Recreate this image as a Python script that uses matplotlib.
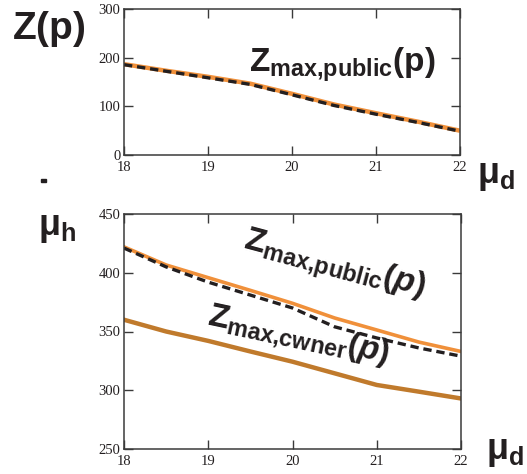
import matplotlib
matplotlib.use("Agg")
import matplotlib.pyplot as plt
from matplotlib.patches import Rectangle

# ---- data ----
mu_d = [18, 18.5, 19, 19.5, 20, 20.5, 21, 21.5, 22]
top_public = [187, 173.5, 161, 147, 126, 104, 86, 68.5, 50]
top_dashed = [186, 172.5, 159, 145.5, 124, 102, 84, 67, 49]
bot_public = [422, 406.6, 395.8, 385, 374, 361.5, 351.3, 341, 333]
bot_dashed = [421, 405, 392, 381, 370, 354, 344.5, 336, 329]
bot_owner = [360, 350, 342, 333, 324.3, 314.4, 304.5, 298.8, 293]
x_ticks = [18, 19, 20, 21, 22]
top_yticks = [0, 100, 200, 300]
bot_yticks = [250, 300, 350, 400, 450]

ORANGE = "#F0903A"
BROWN = "#C07A2C"
DARK = "#231F20"

plt.rcParams["mathtext.fontset"] = "custom"
plt.rcParams["mathtext.bf"] = "Liberation Sans:bold"
plt.rcParams["mathtext.rm"] = "Liberation Sans:bold"
plt.rcParams["mathtext.it"] = "Liberation Sans:italic:bold"
plt.rcParams["lines.scale_dashes"] = False

W, H = 527, 474
fig = plt.figure(figsize=(W / 100, H / 100), dpi=100)


def fx(px):
    return px / W


def fy(py):
    return 1 - py / H


def style_axes(ax, yticks):
    ax.set_xlim(18, 22)
    ax.set_xticks(x_ticks)
    ax.set_yticks(yticks)
    ax.set_ylim(yticks[0], yticks[-1])
    ax.tick_params(direction="in", length=6.5, width=1.0, color="#3a3a3a",
                   top=True, right=True, labelsize=10.5, labelcolor=DARK)
    ax.tick_params(axis="x", pad=4.5)
    ax.tick_params(axis="y", pad=2.5)
    for lab in ax.get_xticklabels() + ax.get_yticklabels():
        lab.set_family("Liberation Serif")
    for lab in ax.get_xticklabels():
        lab.set_x(lab.get_position()[0])
    for sp in ax.spines.values():
        sp.set_color("#3a3a3a")
        sp.set_linewidth(1.1)


# top axes
ax1 = fig.add_axes([fx(124), fy(155), fx(460) - fx(124), (155 - 9.3) / H])
ax1.plot(mu_d, top_public, color=ORANGE, lw=3.2, solid_capstyle="butt")
ax1.plot(mu_d, top_dashed, color=DARK, lw=2.4, dashes=(6, 3.5))
style_axes(ax1, top_yticks)

# bottom axes
ax2 = fig.add_axes([fx(124), fy(449), fx(461) - fx(124), (449 - 214) / H])
ax2.plot(mu_d, bot_owner, color=BROWN, lw=3.2)
ax2.plot(mu_d, bot_public, color=ORANGE, lw=2.6)
ax2.plot(mu_d, bot_dashed, color=DARK, lw=2.4, dashes=(6, 3.5))
style_axes(ax2, bot_yticks)

# labels
fig.text(fx(12), fy(39), r"$\mathbf{Z(p)}$", fontsize=28, color=DARK,
         ha="left", va="baseline")
fig.text(fx(477), fy(183), r"$\mathbf{\mu_d}$", fontsize=26, color=DARK,
         ha="left", va="baseline")
fig.text(fx(38), fy(235), r"$\mathbf{\mu_h}$", fontsize=26, color=DARK,
         ha="left", va="baseline")
fig.text(fx(486), fy(459), r"$\mathbf{\mu_d}$", fontsize=26, color=DARK,
         ha="left", va="baseline")
fig.patches.append(Rectangle((fx(41), fy(182)), 5 / W, 3 / H,
                             transform=fig.transFigure, color=DARK))

fig.text(fx(249), fy(72), r"$\mathbf{Z_{max{,}public}(p)}$", fontsize=24,
         color=DARK, ha="left", va="baseline")

fig.text(fx(334), fy(266), r"$\mathbf{Z_{max{,}public}}\mathit{(p)}$",
         fontsize=24, color=DARK, ha="center", va="center",
         rotation=-15, rotation_mode="anchor")
fig.text(fx(298), fy(336), r"$\mathbf{Z_{max{,}cwner}}\mathit{(p)}$",
         fontsize=24, color=DARK, ha="center", va="center",
         rotation=-12, rotation_mode="anchor")

fig.savefig("out.png", dpi=100)
